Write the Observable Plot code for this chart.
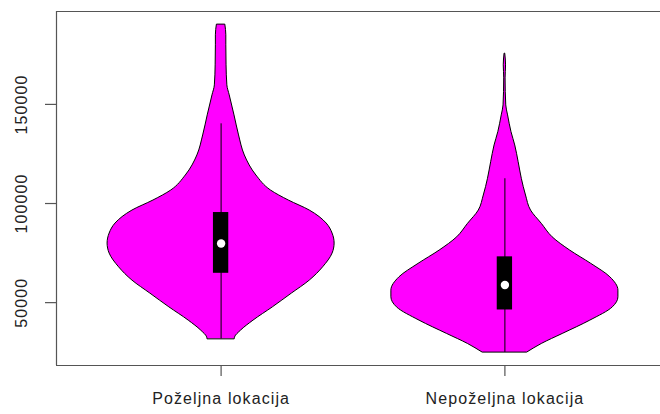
<!DOCTYPE html>
<html>
<head>
<meta charset="utf-8">
<script src="https://cdn.jsdelivr.net/npm/d3@7"></script>
<script src="https://cdn.jsdelivr.net/npm/@observablehq/plot@0.6"></script>
<style>
  html, body { margin: 0; padding: 0; background: white; overflow: hidden; }
  svg { overflow: hidden; }
  svg text.lbl, svg g.lbl text { letter-spacing: 1.1px; }
</style>
</head>
<body>
<div id="chart"></div>
<script>
// ---- data ----
const categories = ["Poželjna lokacija", "Nepoželjna lokacija"];
const yTicks = [50000, 100000, 150000];
const medians = [79800, 58900];
const q1 = [64800, 46300];
const q3 = [95450, 73100];
const whiskerLow = [31670, 24900];
const whiskerHigh = [140200, 112500];

// kernel density profiles (value, relative density; max = 1)
const violin1Values = [31670, 32470, 35860, 40910, 47630, 54550, 61110, 67830, 74750, 79800, 84850, 89900, 96460, 101520, 106570, 114140, 124240, 134340, 144450, 154550, 159600, 169700, 179800, 184850, 190250];
const violin1Density = [0.120, 0.123, 0.175, 0.285, 0.456, 0.623, 0.781, 0.899, 0.982, 1.0, 0.982, 0.930, 0.781, 0.596, 0.439, 0.311, 0.209, 0.158, 0.118, 0.076, 0.055, 0.048, 0.046, 0.046, 0.037];
const violin2Values = [24900, 29140, 34190, 40910, 47630, 52680, 56060, 62780, 69550, 76260, 82980, 89750, 96460, 104040, 112470, 120860, 129290, 136010, 144450, 149500, 163130, 169700, 175600];
const violin2Density = [0.199, 0.325, 0.509, 0.752, 0.951, 1.0, 1.0, 0.929, 0.761, 0.575, 0.420, 0.325, 0.230, 0.186, 0.149, 0.121, 0.091, 0.058, 0.028, 0.012, 0.006, 0.010, 0.003];

// ---- derived tables ----
const violins = [
  ...violin1Values.map((v, i) => ({cat: 1, y: v, d: violin1Density[i]})),
  ...violin2Values.map((v, i) => ({cat: 2, y: v, d: violin2Density[i]}))
];
const stats = categories.map((c, i) => ({
  cat: i + 1, name: c, med: medians[i], q1: q1[i], q3: q3[i], lo: whiskerLow[i], hi: whiskerHigh[i]
}));

const allVals = [...violin1Values, ...violin2Values, ...whiskerLow, ...whiskerHigh];
const lo = d3.min(allVals), hi = d3.max(allVals);
const pad = 0.04 * (hi - lo);
const yDomain = [lo - pad, hi + pad];
const xDomain = [0.5 - 0.08, 2.5 + 0.08];

const halfWidth = 0.4;   // violin half width in x units
const boxHalf = 0.027;

const axisColor = "#555";
const textColor = "#222";
const font = "'Liberation Sans', Arial, sans-serif";

const plot = Plot.plot({
  width: 660,
  height: 414,
  marginLeft: 56,
  marginRight: 0,
  marginTop: 11,
  marginBottom: 49,
  style: {background: "white", fontFamily: font},
  x: {domain: xDomain, range: [56, 669], label: null},
  y: {domain: yDomain, label: null},
  marks: [
    // frame (left, top, bottom; right edge lies outside the picture)
    Plot.ruleX([xDomain[0]], {stroke: axisColor, strokeWidth: 1.2}),
    Plot.ruleY(yDomain, {stroke: axisColor, strokeWidth: 1.2}),
    // axis ticks
    Plot.axisY({ticks: yTicks, tickSize: 11, tickFormat: () => "", stroke: axisColor, strokeWidth: 1.2, anchor: "left", label: null}),
    Plot.axisX({ticks: [1, 2], tickSize: 11, tickFormat: () => "", stroke: axisColor, strokeWidth: 1.2, anchor: "bottom", label: null}),
    // tick labels
    Plot.text(yTicks, {
      x: () => xDomain[0], y: d => d, text: d => String(d),
      rotate: -90, dx: -35, textAnchor: "middle", lineAnchor: "middle",
      fontSize: 16, fill: textColor, className: "lbl"
    }),
    Plot.text(stats, {
      x: "cat", y: () => yDomain[0], text: "name",
      dy: 33, textAnchor: "middle", lineAnchor: "middle",
      fontSize: 16, fill: textColor, className: "lbl"
    }),
    // violins
    Plot.areaX(violins, {
      y: "y",
      x1: d => d.cat - d.d * halfWidth,
      x2: d => d.cat + d.d * halfWidth,
      z: "cat",
      fill: "#FF00FF",
      stroke: "black",
      strokeWidth: 1,
      curve: "monotone-y"
    }),
    // whiskers
    Plot.ruleX(stats, {x: "cat", y1: "lo", y2: "hi", stroke: "black", strokeWidth: 1}),
    // boxes
    Plot.rect(stats, {x1: d => d.cat - boxHalf, x2: d => d.cat + boxHalf, y1: "q1", y2: "q3", fill: "black"}),
    // medians
    Plot.dot(stats, {x: "cat", y: "med", r: 4.2, fill: "white", stroke: null})
  ]
});
document.getElementById("chart").appendChild(plot);
</script>
</body>
</html>
